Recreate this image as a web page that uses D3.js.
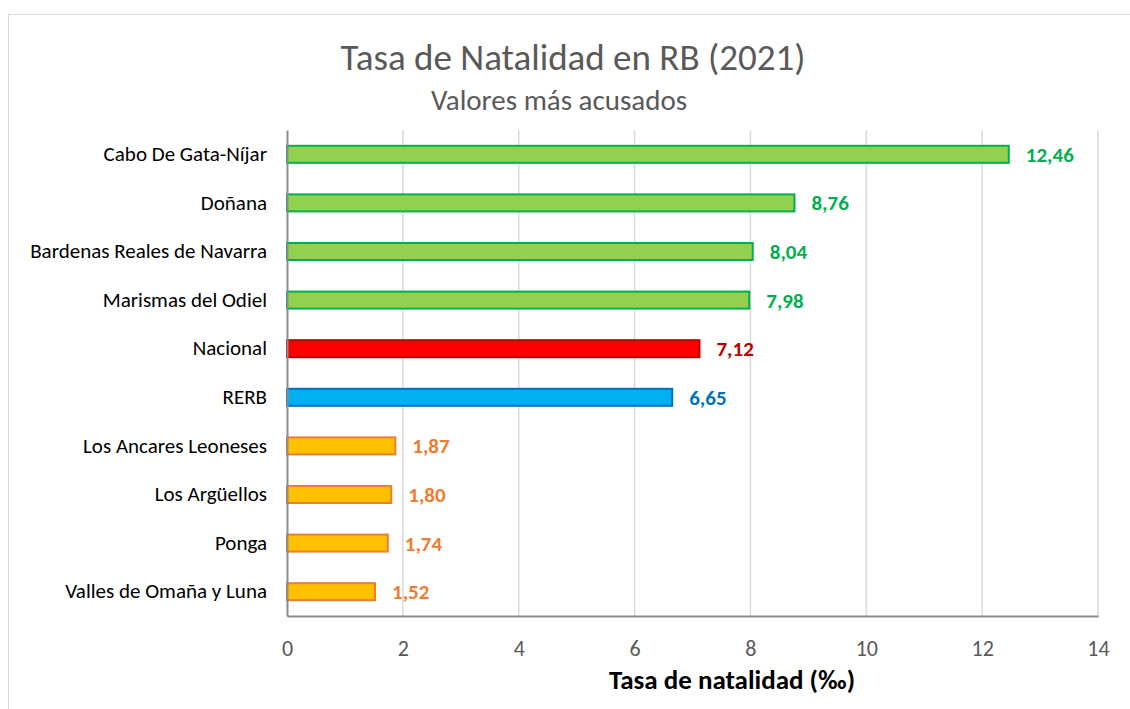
<!DOCTYPE html>
<html>
<head>
<meta charset="utf-8">
<script src="https://cdn.jsdelivr.net/npm/d3@7"></script>
<style>
  body { margin: 0; background: #fff; }
  text { font-family: Carlito, Calibri, Lato, "Open Sans", sans-serif; }
</style>
</head>
<body>
<div id="chart"></div>
<script>
// data
const categories = ["Cabo De Gata-Níjar", "Doñana", "Bardenas Reales de Navarra", "Marismas del Odiel",
  "Nacional", "RERB", "Los Ancares Leoneses", "Los Argüellos", "Ponga", "Valles de Omaña y Luna"];
const values = [12.46, 8.76, 8.04, 7.98, 7.12, 6.65, 1.87, 1.80, 1.74, 1.52];
const groups = ["alto", "alto", "alto", "alto", "nacional", "rerb", "bajo", "bajo", "bajo", "bajo"];
const xTicks = [0, 2, 4, 6, 8, 10, 12, 14];

const fills = {alto: "#92d050", nacional: "#ff0000", rerb: "#00b0f0", bajo: "#ffc000"};
const strokes = {alto: "#00b050", nacional: "#c00000", rerb: "#0070c0", bajo: "#ed7d31"};
const labelColors = {alto: "#00b050", nacional: "#c00000", rerb: "#0070c0", bajo: "#ed7d31"};

const W = 1130, H = 709;
const margin = {top: 130, right: 32, bottom: 93, left: 287};
const width = W - margin.left - margin.right,
      height = H - margin.top - margin.bottom;

const data = categories.map((c, i) => ({name: c, value: values[i], group: groups[i]}));

const svg = d3.select("#chart").append("svg")
    .attr("width", W)
    .attr("height", H);

// chart border
svg.append("rect")
    .attr("x", 8.5).attr("y", 14.5)
    .attr("width", W).attr("height", H)
    .attr("fill", "none")
    .attr("stroke", "#d9d9d9");

const x = d3.scaleLinear().domain([0, 14]).range([0, width]);
const y = d3.scaleBand().domain(categories).range([0, height]).paddingInner(0.65).paddingOuter(0.325);

const g = svg.append("g").attr("transform", `translate(${margin.left},${margin.top})`);

// gridlines
g.append("g")
  .selectAll("line")
  .data(xTicks.slice(1))
  .enter().append("line")
    .attr("x1", d => x(d)).attr("x2", d => x(d))
    .attr("y1", 0).attr("y2", height)
    .attr("stroke", "#d9d9d9")
    .attr("stroke-width", 1.5);

// bars
g.selectAll(".bar")
  .data(data)
  .enter().append("rect")
    .attr("class", "bar")
    .attr("x", x(0))
    .attr("y", d => y(d.name))
    .attr("width", d => x(d.value))
    .attr("height", y.bandwidth())
    .attr("fill", d => fills[d.group])
    .attr("stroke", d => strokes[d.group])
    .attr("stroke-width", 2);

// value labels
g.selectAll(".value")
  .data(data)
  .enter().append("text")
    .attr("class", "value")
    .attr("x", d => x(d.value) + 17)
    .attr("y", d => y(d.name) + y.bandwidth() / 2)
    .attr("dy", "0.36em")
    .attr("fill", d => labelColors[d.group])
    .style("font-size", "21px")
    .style("font-weight", "bold")
    .text(d => d3.format(".2f")(d.value).replace(".", ","));

// y axis
const yAxis = g.append("g")
    .call(d3.axisLeft(y).tickSize(0).tickPadding(20));
yAxis.select(".domain").attr("stroke", "#8c8c8c").attr("stroke-width", 2);
yAxis.selectAll("text").style("font-size", "21px").attr("fill", "#000");

// x axis
const xAxis = g.append("g")
    .attr("transform", `translate(0,${height})`)
    .call(d3.axisBottom(x).tickValues(xTicks).tickSize(0).tickPadding(24));
xAxis.select(".domain").attr("stroke", "#8c8c8c").attr("stroke-width", 2);
xAxis.selectAll("text").style("font-size", "22px").attr("fill", "#595959");

// axis title
svg.append("text")
    .attr("x", 732)
    .attr("y", 689)
    .attr("text-anchor", "middle")
    .style("font-size", "27px")
    .style("font-weight", "bold")
    .attr("fill", "#000")
    .text("Tasa de natalidad (‰)");

// titles
svg.append("text")
    .attr("x", 573)
    .attr("y", 70)
    .attr("text-anchor", "middle")
    .style("font-size", "37px")
    .attr("fill", "#595959")
    .text("Tasa de Natalidad en RB (2021)");

svg.append("text")
    .attr("x", 559)
    .attr("y", 110)
    .attr("text-anchor", "middle")
    .style("font-size", "29px")
    .attr("fill", "#595959")
    .text("Valores más acusados");
</script>
</body>
</html>
